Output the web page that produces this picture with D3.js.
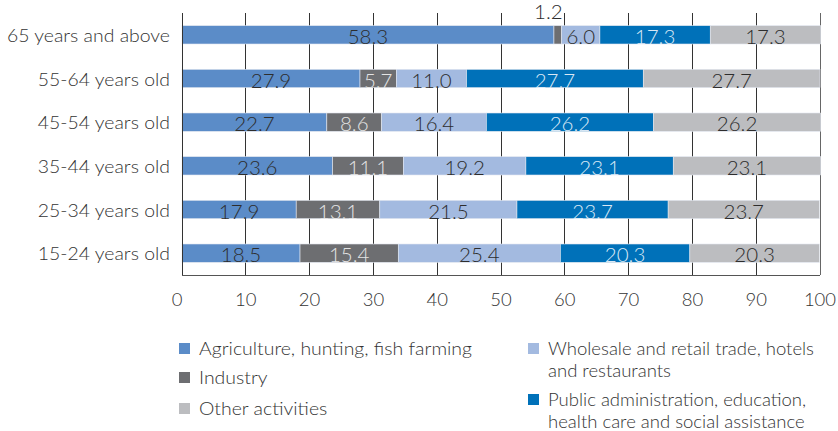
<!DOCTYPE html>
<html><head><meta charset="utf-8">
<script src="https://cdn.jsdelivr.net/npm/d3@7"></script>
<style>
html,body{margin:0;padding:0;background:#fff;}
svg{display:block;font-family:Lato,"Open Sans",sans-serif;font-weight:300;}
</style></head>
<body><svg id="chart" width="838" height="431"></svg>
<script>
const categories = ["65 years and above","55-64 years old","45-54 years old","35-44 years old","25-34 years old","15-24 years old"];
const seriesNames = ["Agriculture, hunting, fish farming","Industry","Wholesale and retail trade, hotels and restaurants","Public administration, education, health care and social assistance","Other activities"];
const agriculture = [58.3,27.9,22.7,23.6,17.9,18.5];
const industry    = [1.2,5.7,8.6,11.1,13.1,15.4];
const wholesale   = [6.0,11.0,16.4,19.2,21.5,25.4];
const publicAdmin = [17.3,27.7,26.2,23.1,23.7,20.3];
const other       = [17.3,27.7,26.2,23.1,23.7,20.3];
const xTicks = [0,10,20,30,40,50,60,70,80,90,100];

const colors = ["#5b8cc8","#6d6e71","#a3bae0","#0071b9","#bcbdc0"];
const labelColors = ["#2d2d2d","#e4e4e4","#2d2d2d","#d9e8f5","#2d2d2d"];
const seriesData = [agriculture,industry,wholesale,publicAdmin,other];

const svg = d3.select("#chart");
const m = {left:182, right:18, top:13, bottom:156};
const W = 838, H = 431;
const x = d3.scaleLinear().domain([0,100]).range([m.left, W-m.right]);
const y = d3.scaleBand().domain(categories).range([m.top, H-m.bottom]).paddingInner(0.58).paddingOuter(0.29);

function stretch(sel, factor){
  sel.each(function(){
    const w = this.getComputedTextLength();
    d3.select(this).attr("textLength", w*factor).attr("lengthAdjust","spacingAndGlyphs");
  });
}
function measure(txt, size){
  const t = svg.append("text").attr("font-size",size).text(txt);
  const w = t.node().getComputedTextLength(); t.remove(); return w;
}

// gridlines
svg.append("g").selectAll("line").data(xTicks.slice(1)).join("line")
  .attr("x1",d=>x(d)).attr("x2",d=>x(d)).attr("y1",m.top).attr("y2",H-m.bottom)
  .attr("stroke",d=>d===100?"#666":"#333").attr("stroke-width",1).attr("shape-rendering","crispEdges");

// stacked bars
const rows = categories.map((c,i)=>{const o={cat:c}; seriesData.forEach((s,k)=>o["s"+k]=s[i]); return o;});
const stack = d3.stack().keys(seriesNames.map((_,k)=>"s"+k));
const stacked = stack(rows);
const g = svg.append("g");
stacked.forEach((layer,k)=>{
  g.append("g").selectAll("rect").data(layer).join("rect")
    .attr("x",d=>x(d[0])).attr("width",d=>x(d[1])-x(d[0]))
    .attr("y",d=>y(d.data.cat)).attr("height",y.bandwidth())
    .attr("fill",colors[k]).attr("stroke","#e3e8f1").attr("stroke-width",0.6);
});

// axes lines
svg.append("line").attr("x1",m.left).attr("x2",m.left).attr("y1",m.top).attr("y2",H-m.bottom).attr("stroke","#333").attr("shape-rendering","crispEdges");
svg.append("line").attr("x1",m.left).attr("x2",W-m.right).attr("y1",H-m.bottom).attr("y2",H-m.bottom).attr("stroke","#555").attr("shape-rendering","crispEdges");

// value labels
const small = d => (x(d[1])-x(d[0]))<15;
stacked.forEach((layer,k)=>{
  g.append("g").selectAll("text").data(layer).join("text")
    .attr("x",d=> small(d) ? x(d[1])+1 : (x(d[0])+x(d[1]))/2)
    .attr("y",d=> small(d) ? y(d.data.cat)-15 : y(d.data.cat)+y.bandwidth()/2+1)
    .attr("text-anchor",d=>small(d)?"end":"middle")
    .attr("dominant-baseline","central")
    .attr("font-size",20.5)
    .attr("fill",d=>small(d)?"#2d2d2d":labelColors[k])
    .text(d=>(d[1]-d[0]).toFixed(1));
});

// category labels
const catFactor = 163 / measure(categories[0], 18);
svg.append("g").selectAll("text").data(categories).join("text")
  .attr("x",170).attr("y",d=>y(d)+y.bandwidth()/2)
  .attr("text-anchor","end").attr("dominant-baseline","central")
  .attr("font-size",18).attr("fill","#333").text(d=>d)
  .call(stretch, catFactor);

// x tick labels
svg.append("g").selectAll("text").data(xTicks).join("text")
  .attr("x",d=>x(d)-(d===0?5:0)).attr("y",299)
  .attr("text-anchor","middle").attr("dominant-baseline","central")
  .attr("font-size",18.5).attr("fill","#333").text(d=>d);

// legend
const LF = 18.5;
const leftFactor = 273 / measure("Agriculture, hunting, fish farming", LF);
const rightFactor = 266 / measure("Wholesale and retail trade, hotels", LF);
const legendItems = [
  {k:0, x:179, y:348, f:leftFactor, lines:["Agriculture, hunting, fish farming"]},
  {k:1, x:179, y:377, f:leftFactor, lines:["Industry"]},
  {k:4, x:179, y:408, f:leftFactor, lines:["Other activities"]},
  {k:2, x:528, y:348, f:rightFactor, lines:["Wholesale and retail trade, hotels","and restaurants"]},
  {k:3, x:528, y:399, f:rightFactor, lines:["Public administration, education,","health care and social assistance"]}
];
const lg = svg.append("g");
legendItems.forEach(it=>{
  lg.append("rect").attr("x",it.x).attr("y",it.y-5).attr("width",11).attr("height",11).attr("fill",colors[it.k]);
  it.lines.forEach((t,i)=>{
    lg.append("text").attr("x",it.x+20).attr("y",it.y+i*21.5)
      .attr("dominant-baseline","central").attr("font-size",LF).attr("fill","#333").text(t)
      .call(stretch, it.f);
  });
});
</script></body></html>
